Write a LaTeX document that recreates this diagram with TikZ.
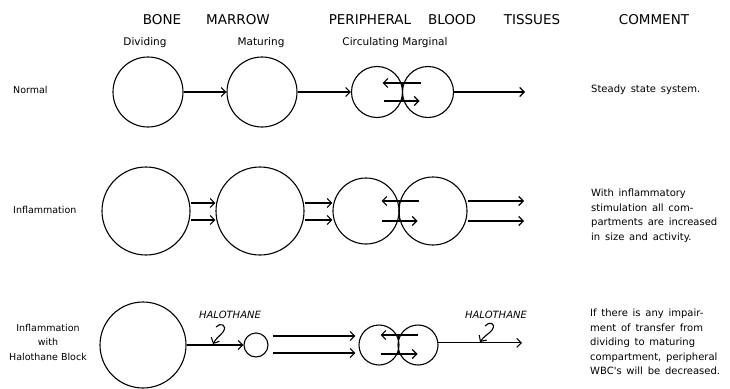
\documentclass[tikz,border=0pt]{standalone}
\usepackage{fontspec}
\setmainfont{DejaVu Sans}
\newfontfamily\notefont[WordSpace=1.5]{DejaVu Sans}
\usetikzlibrary{arrows.meta,calc}

\begin{document}
\begin{tikzpicture}[x=1pt,y=-1pt,
  comp/.style={circle,draw,line width=1.1pt,inner sep=0pt,minimum size=#1},
  flow/.style={line width=1.1pt,-{Straight Barb[length=4.5pt,width=9pt,line width=1.1pt]}},
  wall/.style={line width=1pt},
  hdr/.style={font=\fontsize{13.5}{16}\selectfont,inner sep=0pt},
  sub/.style={font=\fontsize{10.5}{13}\selectfont,inner sep=0pt},
  rowlbl/.style={font=\fontsize{9.5}{14.5}\selectfont,inner sep=0pt},
  note/.style={font=\notefont\fontsize{10}{14.5}\selectfont,align=left,inner sep=0pt},
  drug/.style={font=\fontsize{10}{12}\selectfont\itshape,inner sep=0pt},
]
\useasboundingbox (0,0) rectangle (730,388);

% column headings
\node[hdr] (hbone)   at (162,20) {BONE};
\node[hdr] (hmarrow) at (238,20) {MARROW};
\node[hdr] (hperi)   at (370,20) {PERIPHERAL};
\node[hdr] (hblood)  at (452,20) {BLOOD};
\node[hdr] (htis)    at (532,20) {TISSUES};
\node[hdr] (hcom)    at (654,20) {COMMENT};
\node[sub] (sdiv) at (145,43) {Dividing};
\node[sub] (smat) at (261,43) {Maturing};
\node[sub] (scir) at (395,43) {Circulating Marginal};

% row labels
\node[rowlbl,anchor=west] (lnorm) at (13,90) {Normal};
\node[rowlbl,anchor=west] (linfl) at (13,210) {Inflammation};
\node[rowlbl,align=center] (lhalo) at (48,342) {Inflammation\\with\\Halothane Block};

% ---- normal
\node[comp=70pt] (d1) at (148,92) {};
\node[comp=70pt] (m1) at (262,92) {};
\node[comp=51pt] (c1) at (377,92) {};
\node[comp=51pt] (g1) at (428,92) {};
\coordinate (k1) at ($(c1)!.5!(g1)$);
\coordinate (t1) at (525,92);
\draw[flow] (d1.east) -- (m1.west);
\draw[flow] (m1.east) -- (c1.west);
\draw[flow] ($(k1)+(18,-9)$) -- ($(k1)+(-20,-9)$);
\draw[flow] ($(k1)+(-19,9)$) -- ($(k1)+(17,9)$);
\draw[wall] ($(k1)+(0,-9)$) -- ($(k1)+(0,9)$);
\draw[flow] (g1.east) -- (t1);

% ---- inflammation
\node[comp=88pt] (d2) at (146,211) {};
\node[comp=88pt] (m2) at (260,211) {};
\node[comp=66pt] (c2) at (366,211) {};
\node[comp=68pt] (g2) at (433,211) {};
\coordinate (k2) at (399.5,211);
\coordinate (t2) at (524,211);
\draw[flow] (d2.east |- 0,203) -- (m2.west |- 0,203);
\draw[flow] (d2.east |- 0,220) -- (m2.west |- 0,220);
\draw[flow] (m2.east |- 0,203) -- (c2.west |- 0,203);
\draw[flow] (m2.east |- 0,220) -- (c2.west |- 0,220);
\draw[flow] ($(k2)+(19,-10)$) -- ($(k2)+(-18,-10)$);
\draw[flow] ($(k2)+(-18,10)$) -- ($(k2)+(18,10)$);
\draw[wall] ($(k2)+(0,-10)$) -- ($(k2)+(0,10)$);
\draw[flow] (g2.east |- 0,201) -- (t2 |- 0,201);
\draw[flow] (g2.east |- 0,221) -- (t2 |- 0,221);

% ---- inflammation with halothane block
\node[comp=86pt] (d3) at (143,345) {};
\node[comp=24pt] (s3) at (256,345) {};
\node[comp=40pt] (c3) at (379,345) {};
\node[comp=40pt] (g3) at (418,345) {};
\coordinate (k3) at (398.5,345);
\coordinate (t3) at (522,343);
\draw[flow] (d3.east) -- (s3.west);
\draw[flow] ($(s3.east)+(4,-9)$) -- ($(c3.west)+(-3,-9)$);
\draw[flow] ($(s3.east)+(4,8)$) -- ($(c3.west)+(-3,8)$);
\draw[flow] ($(k3)+(19,-10)$) -- ($(k3)+(-18,-10)$);
\draw[flow] ($(k3)+(-18,9)$) -- ($(k3)+(19,9)$);
\draw[wall] ($(k3)+(0,-10)$) -- ($(k3)+(0,9)$);
\draw[flow] (g3.6) -- (g3.6 -| t3);

% halothane acting on the transfers
\node[drug] (h1) at (230,315) {HALOTHANE};
\node[drug] (h2) at (496,315) {HALOTHANE};
\coordinate (q1) at (216,327);
\coordinate (r1) at (213,344);
\coordinate (q2) at (485,326);
\coordinate (r2) at (480,342);
\draw[flow] (q1) .. controls (220,322) and (228,325) .. (223,332)
            .. controls (220,336) and (216,338) .. (r1);
\draw[flow] (q2) .. controls (489,321) and (497,323) .. (492,330)
            .. controls (489,334) and (484,336) .. (r2);

% comments
\node[note,anchor=west] (n1) at (591,90) {Steady state system.};
\node[note,anchor=north west] (n2) at (591,189) {With inflammatory\\stimulation all com-\\partments are increased\\in size and activity.};
\node[note,anchor=north west] (n3) at (590,309) {If there is any impair-\\ment of transfer from\\dividing to maturing\\compartment, peripheral\\WBC's will be decreased.};
\end{tikzpicture}
\end{document}
